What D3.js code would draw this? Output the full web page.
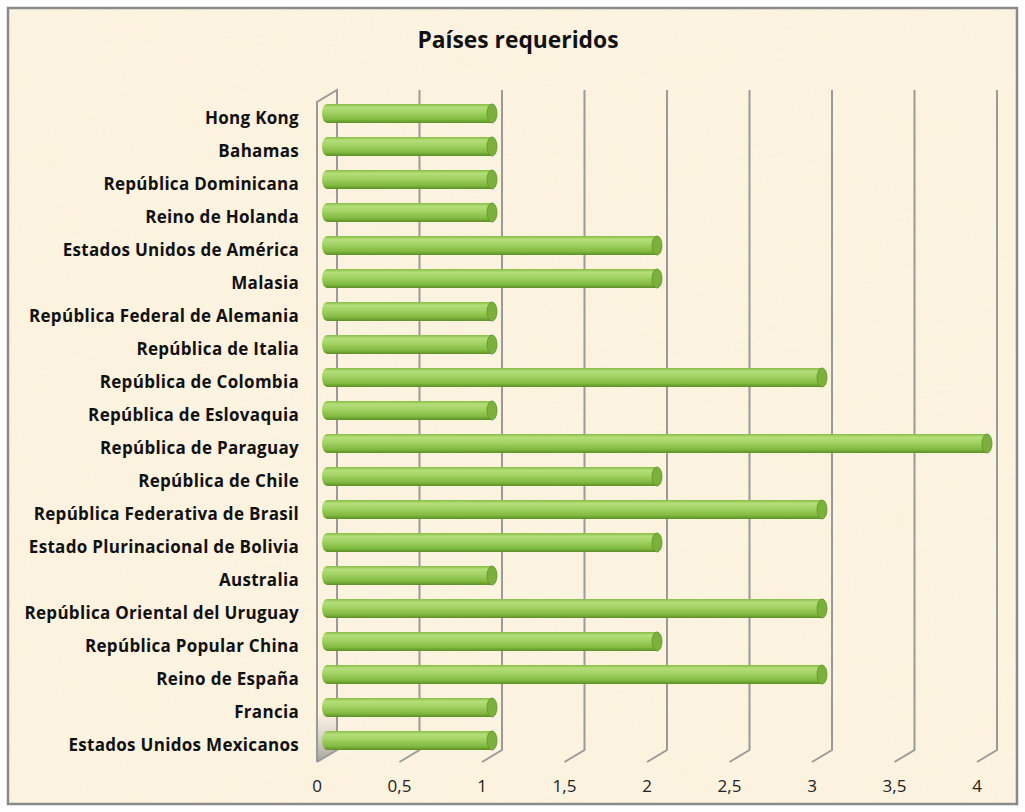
<!DOCTYPE html>
<html>
<head>
<meta charset="utf-8">
<script src="https://cdn.jsdelivr.net/npm/d3@7"></script>
<style>
  body { margin: 0; background: #ffffff; }
</style>
</head>
<body>
<div class="barChart"></div>
<script>
// categories, top to bottom as shown
const paises = ['Hong Kong', 'Bahamas', 'República Dominicana', 'Reino de Holanda',
  'Estados Unidos de América', 'Malasia', 'República Federal de Alemania', 'República de Italia',
  'República de Colombia', 'República de Eslovaquia', 'República de Paraguay', 'República de Chile',
  'República Federativa de Brasil', 'Estado Plurinacional de Bolivia', 'Australia',
  'República Oriental del Uruguay', 'República Popular China', 'Reino de España', 'Francia',
  'Estados Unidos Mexicanos'];
const cantidades = [1, 1, 1, 1, 2, 2, 1, 1, 3, 1, 4, 2, 3, 2, 1, 3, 2, 3, 1, 1];
const ticks = [0, 0.5, 1, 1.5, 2, 2.5, 3, 3.5, 4];
const tickLabels = ['0', '0,5', '1', '1,5', '2', '2,5', '3', '3,5', '4'];
const titulo = 'Países requeridos';

const width = 1025, height = 812;
const depth = {dx: 20, dy: 12}; // 3d offset between front floor edge and back wall

const svg = d3.select(".barChart").append("svg")
  .attr("width", width).attr("height", height);

const defs = svg.append("defs");

// parchment look
const filt = defs.append("filter").attr("id", "paper").attr("x", 0).attr("y", 0).attr("width", "100%").attr("height", "100%");
filt.append("feTurbulence").attr("type", "fractalNoise").attr("baseFrequency", "0.012 0.02").attr("numOctaves", 3).attr("seed", 7);
filt.append("feColorMatrix").attr("type", "matrix")
  .attr("values", "0 0 0 0 0.94  0 0 0 0 0.86  0 0 0 0 0.66  0 0 0 0.45 -0.12");
filt.append("feComposite").attr("in2", "SourceGraphic").attr("operator", "in");

const grad = defs.append("linearGradient").attr("id", "cyl").attr("x1", 0).attr("y1", 0).attr("x2", 0).attr("y2", 1);
[[0, "#86bc44"], [0.18, "#b5de7b"], [0.45, "#a2d263"], [0.8, "#82ba41"], [1, "#5c8e25"]]
  .forEach(s => grad.append("stop").attr("offset", s[0]).attr("stop-color", s[1]));

const wallGrad = defs.append("linearGradient").attr("id", "wall").attr("x1", 0).attr("y1", 0).attr("x2", 0).attr("y2", 1);
[[0, "#e8e4dc", 0], [0.5, "#c9c6c0", 0.6], [1, "#9f9c98", 0.95]]
  .forEach(s => wallGrad.append("stop").attr("offset", s[0]).attr("stop-color", s[1]).attr("stop-opacity", s[2]));

svg.append("rect").attr("x", 8).attr("y", 8).attr("width", 1009).attr("height", 796).attr("fill", "#fcf3e0");
svg.append("rect").attr("x", 8).attr("y", 8).attr("width", 1009).attr("height", 796)
  .attr("fill", "#fcf3e0").attr("filter", "url(#paper)").attr("opacity", 0.5);
svg.append("rect").attr("x", 8).attr("y", 8).attr("width", 1009).attr("height", 796)
  .attr("fill", "none").attr("stroke", "#8a8a8a").attr("stroke-width", 2.5);

// scales
const xFront = d3.scaleLinear().domain([0, 4]).range([317, 977]);
const xBack = d3.scaleLinear().domain([0, 4]).range([317 + depth.dx, 977 + depth.dx]);
const xBar = d3.scaleLinear().domain([0, 4]).range([327, 987]);
const y = d3.scaleBand().domain(paises).range([97, 757]).paddingInner(0.42).paddingOuter(0.21);

const backTop = 90, backBottom = 750;

// left wall shading near the floor
svg.append("path")
  .attr("d", `M${xFront(0)},${backBottom - 45 + depth.dy} L${xBack(0)},${backBottom - 45} L${xBack(0)},${backBottom} L${xFront(0)},${backBottom + depth.dy}Z`)
  .attr("fill", "url(#wall)");

// back wall gridlines with floor returns
const gridG = svg.append("g").attr("fill", "none").attr("stroke", "#9a9a9a").attr("stroke-width", 2);
gridG.selectAll("path.grid").data(ticks.slice(1)).join("path").attr("class", "grid")
  .attr("d", d => `M${xBack(d)},${backTop} L${xBack(d)},${backBottom} L${xFront(d)},${backBottom + depth.dy}`);
// left wall outline
gridG.append("path")
  .attr("d", `M${xFront(0)},${backBottom + depth.dy} L${xFront(0)},${backTop + depth.dy} L${xBack(0)},${backTop} L${xBack(0)},${backBottom} L${xFront(0)},${backBottom + depth.dy}`);

// cylinder bars
const bars = svg.append("g").selectAll("g").data(paises).join("g");
const bh = y.bandwidth();
const capRx = 5;
bars.append("path")
  .attr("d", (d, i) => {
    const x0 = xBar(0), x1 = xBar(cantidades[i]), t = y(d), b = t + bh;
    return `M${x1},${t} L${x0},${t} A${capRx},${bh / 2} 0 0 0 ${x0},${b} L${x1},${b}Z`;
  })
  .attr("fill", "url(#cyl)");
bars.append("ellipse")
  .attr("cx", (d, i) => xBar(cantidades[i]))
  .attr("cy", d => y(d) + bh / 2)
  .attr("rx", capRx).attr("ry", bh / 2)
  .attr("fill", "#79b13b").attr("stroke", "#5f9329").attr("stroke-width", 0.8);

// category labels (sit a little lower than the bars, like the 3d original)
svg.append("g").selectAll("text").data(paises).join("text")
  .attr("x", 299)
  .attr("y", d => y(d) + bh / 2 + 10.5)
  .attr("text-anchor", "end")
  .attr("font-family", "'Open Sans', sans-serif")
  .attr("font-weight", "bold")
  .attr("font-size", "17px")
  .attr("letter-spacing", "0.3px")
  .attr("fill", "#111")
  .text(d => d);

// value axis labels
svg.append("g").selectAll("text").data(ticks).join("text")
  .attr("x", d => xFront(d))
  .attr("y", 792)
  .attr("text-anchor", "middle")
  .attr("font-family", "'Open Sans', sans-serif")
  .attr("font-size", "17px")
  .attr("fill", "#222")
  .text((d, i) => tickLabels[i]);

// title
svg.append("text")
  .attr("x", 518).attr("y", 48)
  .attr("text-anchor", "middle")
  .attr("font-family", "'Open Sans', sans-serif")
  .attr("font-weight", "bold")
  .attr("font-size", "22.8px")
  .attr("fill", "#111")
  .text(titulo);
</script>
</body>
</html>
